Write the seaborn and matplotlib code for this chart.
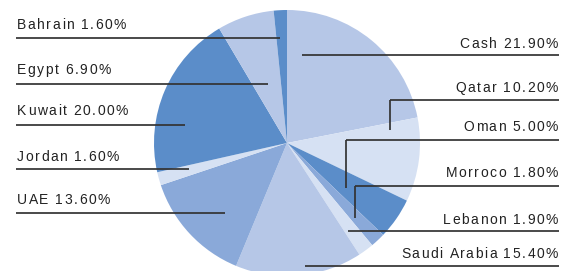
import matplotlib
matplotlib.use("Agg")
import matplotlib.pyplot as plt
from matplotlib.font_manager import FontProperties
import seaborn as sns

sns.set_theme(style="white")
plt.rcParams['font.family'] = ['Liberation Sans', 'DejaVu Sans']

labels = ["Cash", "Qatar", "Oman", "Morroco", "Lebanon", "Saudi Arabia",
          "UAE", "Jordan", "Kuwait", "Egypt", "Bahrain"]
values = [21.90, 10.20, 5.00, 1.80, 1.90, 15.40, 13.60, 1.60, 20.00, 6.90, 1.60]

DARK = "#5b8dc9"
MID = "#8aa9d9"
LIGHT = "#b6c7e7"
PALE = "#d6e1f3"
colors = [LIGHT, PALE, DARK, MID, PALE, LIGHT, MID, PALE, DARK, LIGHT, DARK]

W, H = 587, 271
fig = plt.figure(figsize=(W / 100, H / 100), dpi=100)
ax = fig.add_axes([0, 0, 1, 1])

cx, cy, R = 287, H - 143, 133
ax.pie(values, colors=colors, startangle=90, counterclock=False,
       center=(cx, cy), radius=R, wedgeprops=dict(linewidth=0))
ax.set_xlim(0, W)
ax.set_ylim(0, H)
ax.set_aspect('equal')
ax.axis('off')


def Y(p):
    return H - p


LC = "#333333"
LW = 1.25
FS = 10
TRACK = 1.5
TCOL = "#222222"
prop = FontProperties(family=['Liberation Sans', 'DejaVu Sans'], size=FS)
renderer = fig.canvas.get_renderer()
bar_w = renderer.get_text_width_height_descent("|", prop, ismath=False)[0]


def adv(s):
    if not s:
        return 0.0
    w = renderer.get_text_width_height_descent(s + "|", prop, ismath=False)[0]
    return w - bar_w


def tracked(x, y, s, ha):
    total = adv(s) + (len(s) - 1) * TRACK
    x0 = x - total if ha == 'right' else x
    for i, ch in enumerate(s):
        if ch == " ":
            continue
        xi = x0 + adv(s[:i]) + i * TRACK
        ax.text(xi, y, ch, ha='left', va='baseline', fontproperties=prop,
                color=TCOL)


# layout: (side, text_baseline_y, line_y, x_end, drop_y)
layout = {
    "Bahrain": ("L", 29, 38, 280, None),
    "Egypt": ("L", 74, 84, 268, None),
    "Kuwait": ("L", 115, 125, 185, None),
    "Jordan": ("L", 161, 169, 189, None),
    "UAE": ("L", 204, 213, 225, None),
    "Cash": ("R", 48, 55, 302, None),
    "Qatar": ("R", 92, 100, 390, 130),
    "Oman": ("R", 131, 140, 346, 188),
    "Morroco": ("R", 177, 186, 355, 218),
    "Lebanon": ("R", 224, 231, 348, None),
    "Saudi Arabia": ("R", 258, 266, 305, None),
}

for lab, val in zip(labels, values):
    side, ty, ly, xe, drop = layout[lab]
    txt = f"{lab} {val:.2f}%"
    if side == "L":
        ax.plot([16, xe], [Y(ly), Y(ly)], color=LC, lw=LW, solid_capstyle='butt')
        tracked(17, Y(ty), txt, 'left')
    else:
        ax.plot([xe, 559], [Y(ly), Y(ly)], color=LC, lw=LW, solid_capstyle='butt')
        if drop is not None:
            ax.plot([xe, xe], [Y(ly), Y(drop)], color=LC, lw=LW, solid_capstyle='butt')
        tracked(558, Y(ty), txt, 'right')

fig.savefig("out.png", dpi=100)
